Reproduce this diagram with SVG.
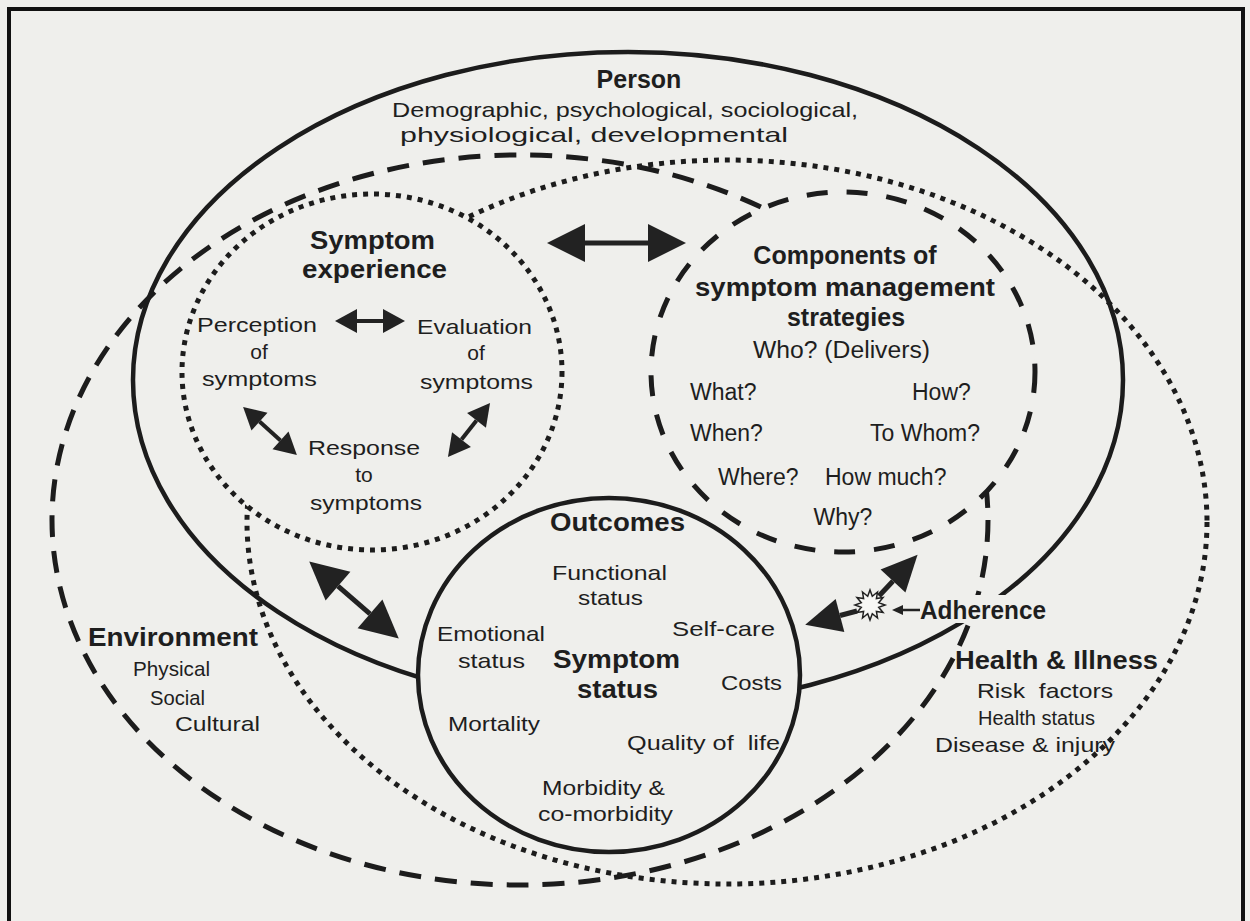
<svg xmlns="http://www.w3.org/2000/svg" width="1250" height="921" viewBox="0 0 1250 921">
<defs>
<style>
.bg{fill:#efefec}
.solid{fill:none;stroke:#1c1c1c;stroke-width:4.5}
.dash-env{fill:none;stroke:#1c1c1c;stroke-width:5;stroke-dasharray:22 14}
.dash-cmp{fill:none;stroke:#1c1c1c;stroke-width:5;stroke-dasharray:21 19}
.dot{fill:none;stroke:#1c1c1c;stroke-width:5;stroke-dasharray:5 6}
.filled{fill:#efefec}
.shaft{fill:none;stroke:#222;stroke-width:5}
.shaft-s{fill:none;stroke:#222;stroke-width:4}
.t{font-family:"Liberation Sans",Arial,sans-serif;fill:#1e1e1e;font-size:21px}
.b{font-family:"Liberation Sans",Arial,sans-serif;fill:#1e1e1e;font-weight:bold;font-size:25px}
.c{font-size:23px}
</style>
<marker id="hb" markerUnits="userSpaceOnUse" markerWidth="40" markerHeight="40" viewBox="0 -20 38 40" refX="0" refY="0" orient="auto-start-reverse">
<path d="M0,-19 L38,0 L0,19 Z" fill="#222"/>
</marker>
<marker id="hm" markerUnits="userSpaceOnUse" markerWidth="38" markerHeight="36" viewBox="0 -18 36 36" refX="0" refY="0" orient="auto-start-reverse">
<path d="M0,-17 L36,0 L0,17 Z" fill="#222"/>
</marker>
<marker id="hs" markerUnits="userSpaceOnUse" markerWidth="24" markerHeight="26" viewBox="0 -13 22 26" refX="0" refY="0" orient="auto-start-reverse">
<path d="M0,-12 L22,0 L0,12 Z" fill="#222"/>
</marker>
<marker id="ht" markerUnits="userSpaceOnUse" markerWidth="12" markerHeight="12" viewBox="0 -6 11 12" refX="0" refY="0" orient="auto">
<path d="M0,-5 L11,0 L0,5 Z" fill="#222"/>
</marker>
</defs>
<rect class="bg" x="0" y="0" width="1250" height="921"/>
<path d="M9,921 V9 H1243 V921" fill="none" stroke="#111" stroke-width="4"/>

<g id="environment">
<ellipse class="dash-env" cx="520" cy="520" rx="468" ry="365"/>
</g>
<g id="health-illness">
<ellipse class="dot" cx="727" cy="522" rx="480" ry="362"/>
</g>
<g id="person">
<ellipse class="solid" cx="628" cy="380" rx="495" ry="328"/>
</g>
<g id="symptom-experience">
<ellipse class="filled dot" cx="372" cy="372" rx="190" ry="178"/>
</g>
<g id="management-strategies">
<ellipse class="filled dash-cmp" cx="843" cy="372" rx="192" ry="180"/>
</g>
<g id="outcomes">
<ellipse class="filled solid" cx="609" cy="675" rx="191" ry="177"/>
</g>

<g id="connectors">
<path class="shaft" d="M585,243 H648" marker-start="url(#hb)" marker-end="url(#hb)"/>
<path class="shaft" d="M338,586.2 L370,613.8" marker-start="url(#hb)" marker-end="url(#hb)"/>
<path class="shaft-s" d="M357,321 H383" marker-start="url(#hs)" marker-end="url(#hs)"/>
<path class="shaft-s" d="M259.5,421.6 L280.5,440.4" marker-start="url(#hs)" marker-end="url(#hs)"/>
<path class="shaft-s" d="M476.5,420.4 L461.5,439.6" marker-start="url(#hs)" marker-end="url(#hs)"/>
<path class="shaft" d="M857,611 L840,615.5" marker-end="url(#hm)"/>
<path class="shaft" d="M879,596 L893,581" marker-end="url(#hm)"/>
<rect class="bg" x="916" y="595" width="134" height="28"/>
<path d="M920,610 H903" fill="none" stroke="#222" stroke-width="2.5" marker-end="url(#ht)"/>
<polygon points="885,605 878.7,607.3 883,612.5 876.4,611.4 877.5,618 872.3,613.7 870,620 867.7,613.7 862.5,618 863.6,611.4 857,612.5 861.3,607.3 855,605 861.3,602.7 857,597.5 863.6,598.6 862.5,592 867.7,596.3 870,590 872.3,596.3 877.5,592 876.4,598.6 883,597.5 878.7,602.7" fill="#f7f7f5" stroke="#222" stroke-width="1.5"/>
</g>

<g id="person-text">
<text class="b" x="639" y="88" text-anchor="middle" font-size="26">Person</text>
<text class="t" x="392" y="117" font-size="22" textLength="466" lengthAdjust="spacingAndGlyphs">Demographic, psychological, sociological,</text>
<text class="t" x="400" y="142" font-size="22" textLength="388" lengthAdjust="spacingAndGlyphs">physiological, developmental</text>
</g>
<g id="symptom-experience-text">
<text class="b" x="310" y="249" textLength="125" lengthAdjust="spacingAndGlyphs">Symptom</text>
<text class="b" x="302" y="278" textLength="145" lengthAdjust="spacingAndGlyphs">experience</text>
<text class="t" x="197" y="332" textLength="120" lengthAdjust="spacingAndGlyphs">Perception</text>
<text class="t" x="259" y="359" text-anchor="middle">of</text>
<text class="t" x="202" y="386" textLength="115" lengthAdjust="spacingAndGlyphs">symptoms</text>
<text class="t" x="417" y="334" textLength="115" lengthAdjust="spacingAndGlyphs">Evaluation</text>
<text class="t" x="476" y="360" text-anchor="middle">of</text>
<text class="t" x="420" y="389" textLength="113" lengthAdjust="spacingAndGlyphs">symptoms</text>
<text class="t" x="308" y="455" textLength="112" lengthAdjust="spacingAndGlyphs">Response</text>
<text class="t" x="364" y="482" text-anchor="middle">to</text>
<text class="t" x="310" y="510" textLength="112" lengthAdjust="spacingAndGlyphs">symptoms</text>
</g>
<g id="management-text">
<text class="b" x="845" y="264" text-anchor="middle" font-size="27">Components of</text>
<text class="b" x="695" y="296" font-size="27" textLength="300" lengthAdjust="spacingAndGlyphs">symptom management</text>
<text class="b" x="846" y="326" text-anchor="middle" font-size="27">strategies</text>
<text class="t c" x="753" y="358" textLength="177" lengthAdjust="spacingAndGlyphs">Who? (Delivers)</text>
<text class="t c" x="690" y="400">What?</text>
<text class="t c" x="912" y="400">How?</text>
<text class="t c" x="690" y="441">When?</text>
<text class="t c" x="870" y="441">To Whom?</text>
<text class="t c" x="718" y="485">Where?</text>
<text class="t c" x="825" y="485">How much?</text>
<text class="t c" x="843" y="525" text-anchor="middle">Why?</text>
</g>
<g id="outcomes-text">
<text class="b" x="550" y="531" textLength="135" lengthAdjust="spacingAndGlyphs">Outcomes</text>
<text class="t" x="552" y="580" textLength="115" lengthAdjust="spacingAndGlyphs">Functional</text>
<text class="t" x="578" y="605" textLength="65" lengthAdjust="spacingAndGlyphs">status</text>
<text class="t" x="437" y="641" textLength="108" lengthAdjust="spacingAndGlyphs">Emotional</text>
<text class="t" x="458" y="668" textLength="67" lengthAdjust="spacingAndGlyphs">status</text>
<text class="t" x="672" y="636" textLength="103" lengthAdjust="spacingAndGlyphs">Self-care</text>
<text class="b" x="553" y="668" textLength="127" lengthAdjust="spacingAndGlyphs">Symptom</text>
<text class="b" x="577" y="698" textLength="81" lengthAdjust="spacingAndGlyphs">status</text>
<text class="t" x="721" y="690" textLength="61" lengthAdjust="spacingAndGlyphs">Costs</text>
<text class="t" x="448" y="731" textLength="92" lengthAdjust="spacingAndGlyphs">Mortality</text>
<text class="t" x="627" y="750" textLength="153" lengthAdjust="spacingAndGlyphs" xml:space="preserve">Quality of  life</text>
<text class="t" x="542" y="795" textLength="123" lengthAdjust="spacingAndGlyphs">Morbidity &amp;</text>
<text class="t" x="538" y="821" textLength="135" lengthAdjust="spacingAndGlyphs">co-morbidity</text>
</g>
<g id="environment-text">
<text class="b" x="88" y="646" textLength="170" lengthAdjust="spacingAndGlyphs">Environment</text>
<text class="t" x="133" y="676" textLength="77" lengthAdjust="spacingAndGlyphs">Physical</text>
<text class="t" x="150" y="705" textLength="55" lengthAdjust="spacingAndGlyphs">Social</text>
<text class="t" x="175" y="731" textLength="85" lengthAdjust="spacingAndGlyphs">Cultural</text>
</g>
<g id="health-text">
<text class="b" x="955" y="669" textLength="203" lengthAdjust="spacingAndGlyphs">Health &amp; Illness</text>
<text class="t" x="977" y="698" textLength="136" lengthAdjust="spacingAndGlyphs" xml:space="preserve">Risk  factors</text>
<text class="t" x="978" y="725" textLength="117" lengthAdjust="spacingAndGlyphs">Health status</text>
<text class="t" x="935" y="752" textLength="180" lengthAdjust="spacingAndGlyphs">Disease &amp; injury</text>
</g>
<g id="adherence">
<text class="b" x="920" y="619" font-size="22" textLength="126" lengthAdjust="spacingAndGlyphs">Adherence</text>
</g>
</svg>
